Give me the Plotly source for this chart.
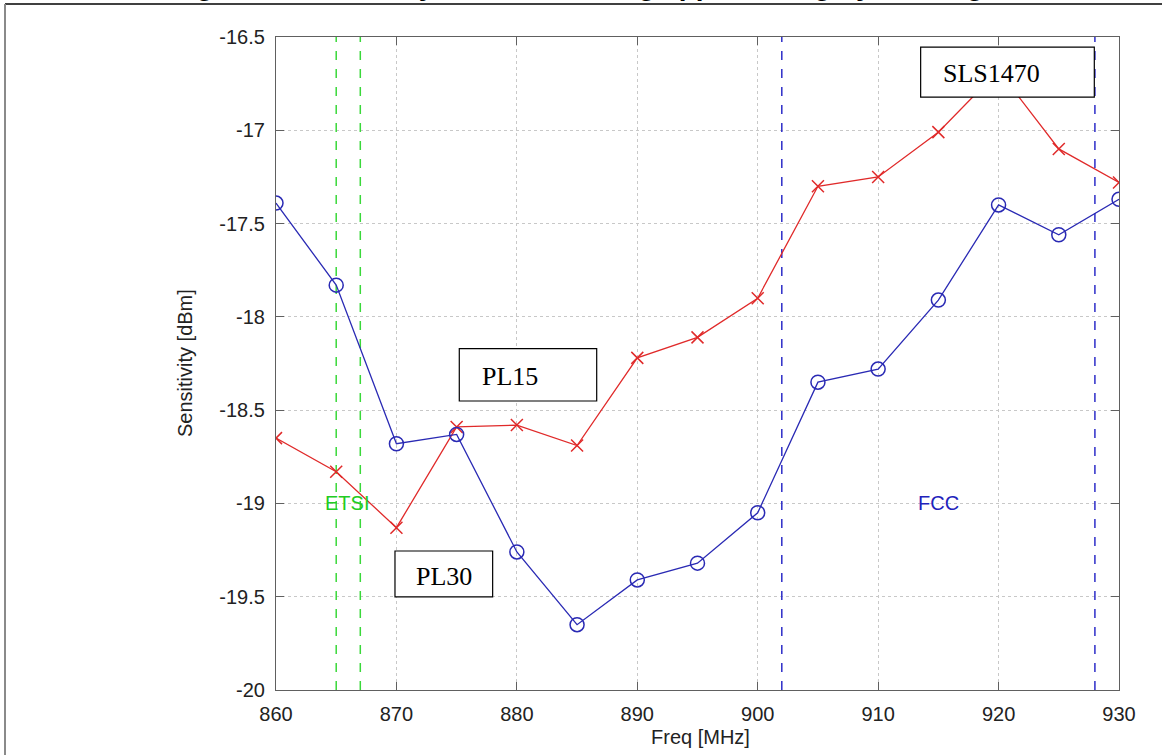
import plotly.graph_objects as go

# ---- data ----
freq = [860, 865, 870, 875, 880, 885, 890, 895, 900, 905, 910, 915, 920, 925, 930]
sens_red = [-18.65, -18.83, -19.13, -18.59, -18.58, -18.69, -18.22, -18.11, -17.90,
            -17.30, -17.25, -17.01, -16.68, -17.10, -17.28]
sens_blue = [-17.39, -17.83, -18.68, -18.63, -19.26, -19.65, -19.41, -19.32, -19.05,
             -18.35, -18.28, -17.91, -17.40, -17.56, -17.37]
etsi_band = [865, 867]
fcc_band = [902, 928]
x_ticks = [860, 870, 880, 890, 900, 910, 920, 930]
x_ticktext = ["860", "870", "880", "890", "900", "910", "920", "930"]
y_ticks = [-20, -19.5, -19, -18.5, -18, -17.5, -17, -16.5]
y_ticktext = ["-20", "-19.5", "-19", "-18.5", "-18", "-17.5", "-17", "-16.5"]
x_range = [860, 930]
y_range = [-20, -16.5]

title_text = "Reading RFID Sensitivity with PL15 using approaching by rotating"

# label boxes: (text, x0, x1, y0, y1, text_x, text_y)
label_boxes = [
    ("PL15", 875.22, 886.63, -18.451, -18.170, 876.9, -18.322),
    ("PL30", 869.88, 877.99, -19.501, -19.255, 871.5, -19.394),
    ("SLS1470", 913.53, 927.95, -16.822, -16.554, 915.2, -16.693),
]

W, H = 1162, 755
L, R, T, B = 276, 43, 37, 65
pw, ph = W - L - R, H - T - B


def px_x(p):
    return (p - L) / pw


def px_y(p):
    return (H - B - p) / ph


RED = "#e02a2a"
BLUE = "#2a2ab4"
GREEN = "#3ad83a"
DBLUE = "#2d2dc8"

fig = go.Figure()

for f in etsi_band:
    fig.add_trace(go.Scatter(x=[f, f], y=y_range, mode="lines",
                             line=dict(color=GREEN, width=1.5, dash="dash"),
                             hoverinfo="skip", showlegend=False))
for f in fcc_band:
    fig.add_trace(go.Scatter(x=[f, f], y=y_range, mode="lines",
                             line=dict(color=DBLUE, width=1.5, dash="dash"),
                             hoverinfo="skip", showlegend=False))

fig.add_trace(go.Scatter(x=freq, y=sens_red, mode="lines+markers",
                         line=dict(color=RED, width=1.3),
                         marker=dict(symbol="x-thin-open", size=12,
                                     line=dict(color=RED, width=1.5)),
                         showlegend=False))
fig.add_trace(go.Scatter(x=freq, y=sens_blue, mode="lines+markers",
                         line=dict(color=BLUE, width=1.3),
                         marker=dict(symbol="circle-open", size=14,
                                     line=dict(color=BLUE, width=1.5)),
                         showlegend=False))

shapes = []
annotations = []
for text, x0, x1, y0, y1, tx, ty in label_boxes:
    shapes.append(dict(type="rect", xref="x", yref="y", x0=x0, x1=x1, y0=y0, y1=y1,
                       fillcolor="white", line=dict(color="black", width=1.2),
                       layer="above"))
    annotations.append(dict(text=text, x=tx, y=ty, xref="x", yref="y",
                            xanchor="left", yanchor="middle", showarrow=False,
                            font=dict(family="Liberation Serif", size=26, color="black")))

annotations.append(dict(text="ETSI", x=865.9, y=-19, xref="x", yref="y",
                        showarrow=False, xanchor="center", yanchor="middle",
                        font=dict(family="Liberation Sans", size=20, color="#22cc22")))
annotations.append(dict(text="FCC", x=915, y=-19, xref="x", yref="y",
                        showarrow=False, xanchor="center", yanchor="middle",
                        font=dict(family="Liberation Sans", size=20, color="#2222bb")))

# axis titles
annotations.append(dict(text="Freq [MHz]", x=px_x(700), y=px_y(737), xref="paper", yref="paper",
                        showarrow=False, xanchor="center", yanchor="middle",
                        font=dict(family="Liberation Sans", size=20, color="#222")))
annotations.append(dict(text="Sensitivity [dBm]", x=px_x(185), y=px_y(363), xref="paper",
                        yref="paper", showarrow=False, xanchor="center", yanchor="middle",
                        textangle=-90,
                        font=dict(family="Liberation Sans", size=20, color="#222")))
# title (clipped at the top edge, as in the source image)
annotations.append(dict(text="<b>" + title_text + "</b>", x=px_x(101), y=px_y(3),
                        xref="paper", yref="paper", showarrow=False,
                        xanchor="left", yanchor="bottom",
                        font=dict(family="Liberation Sans", size=28, color="black")))

# frame lines
shapes.append(dict(type="line", xref="paper", yref="paper", x0=px_x(5), x1=px_x(1162),
                   y0=px_y(4), y1=px_y(4), line=dict(color="black", width=1.5)))
shapes.append(dict(type="line", xref="paper", yref="paper", x0=px_x(5), x1=px_x(5),
                   y0=px_y(4), y1=px_y(755), line=dict(color="#8a8a8a", width=2)))

axis_common = dict(showline=True, linecolor="#606060", linewidth=1.2, mirror="ticks",
                   ticks="inside", ticklen=8, tickwidth=1, tickcolor="#606060",
                   showgrid=True, gridcolor="#c8c8c8", griddash="dot", gridwidth=1,
                   zeroline=False,
                   tickfont=dict(family="Liberation Sans", size=20, color="#222"))

fig.update_xaxes(range=x_range, tickvals=x_ticks, ticktext=x_ticktext,
                 ticklabelstandoff=6, **axis_common)
fig.update_yaxes(range=y_range, tickvals=y_ticks, ticktext=y_ticktext,
                 ticklabelstandoff=6, **axis_common)

fig.update_layout(width=W, height=H, autosize=False,
                  margin=dict(l=L, r=R, t=T, b=B, pad=0),
                  paper_bgcolor="white", plot_bgcolor="white",
                  shapes=shapes, annotations=annotations,
                  showlegend=False)

fig.write_html("out.html", config={"displayModeBar": False},
               post_script="document.body.style.margin='0';document.body.style.overflow='hidden';")
